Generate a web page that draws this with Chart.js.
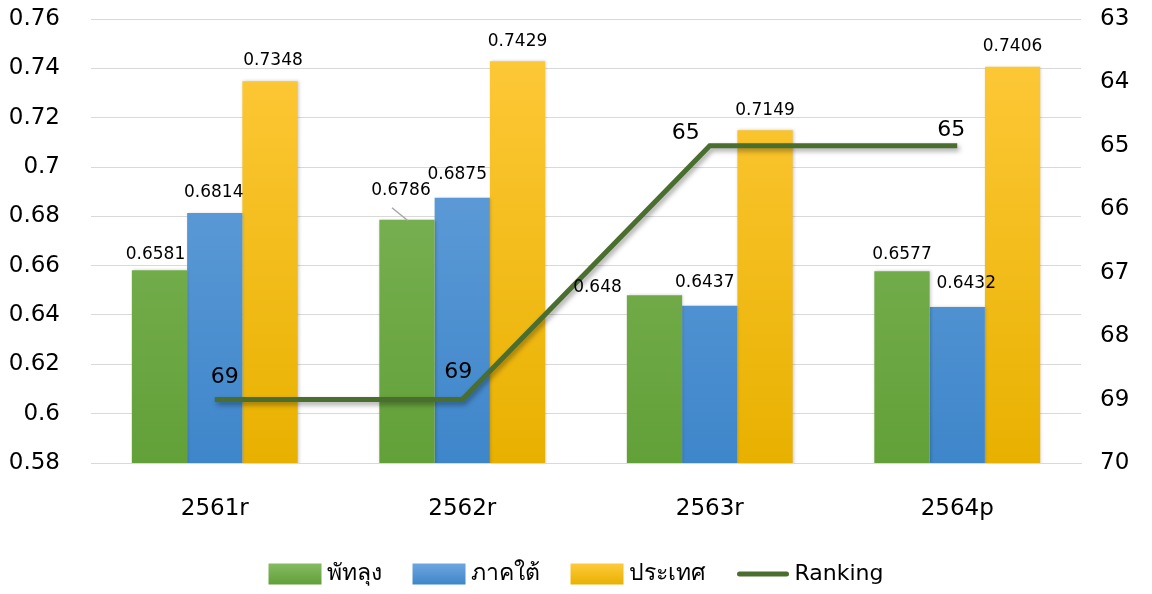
<!DOCTYPE html>
<html>
<head>
<meta charset="utf-8">
<script src="https://cdn.jsdelivr.net/npm/chart.js@4/dist/chart.umd.min.js"></script>
<style>
  html, body { margin: 0; padding: 0; background: #fff; }
  #wrap { width: 1152px; height: 594px; }
</style>
</head>
<body>
<div id="wrap"><canvas id="rankChart" width="1152" height="594"></canvas></div>
<script>
// data
var years = ["2561r", "2562r", "2563r", "2564p"];
var phatthalung = [0.6581, 0.6786, 0.648, 0.6577];
var southRegion = [0.6814, 0.6875, 0.6437, 0.6432];
var country = [0.7348, 0.7429, 0.7149, 0.7406];
var ranking = [69, 69, 65, 65];

var FONT = "'DejaVu Sans', 'Noto Sans', sans-serif";

var colors = {
  green: ["#86bb62", "#62a038"],
  blue: ["#6ea6de", "#3e86ca"],
  yellow: ["#ffca3c", "#e8b100"],
  rank: "#4a6e2e"
};

//gradient fill per bar colour (top -> bottom)
function barGradient(top, bottom) {
  return function (context) {
    var area = context.chart.chartArea;
    if (!area) return bottom;
    var g = context.chart.ctx.createLinearGradient(0, area.top, 0, area.bottom);
    g.addColorStop(0, top);
    g.addColorStop(1, bottom);
    return g;
  };
}

// label nudges for the crowded spots (dataset index -> point index -> [dx, dy])
var labelNudge = {
  1: { 0: [-4, 4], 1: [-6, -9], 2: [-57, 12], 3: [0, 3] },
  2: { 0: [-1, 0], 1: [-5, -3], 2: [-5, -3], 3: [9, -4] },
  3: { 0: [3, -1] }
};
// ranking labels sit by hand next to the points
var rankLabelOffset = [[10, -22], [-4, -27], [-24, -13], [-6, -16]];

var valueLabels = {
  id: 'valueLabels',
  afterDatasetsDraw: function (chart) {
    var ctx = chart.ctx;
    ctx.save();
    ctx.fillStyle = "#000";
    ctx.textAlign = "center";
    ctx.textBaseline = "middle";
    chart.data.datasets.forEach(function (ds, di) {
      var meta = chart.getDatasetMeta(di);
      meta.data.forEach(function (el, i) {
        if (ds.type === 'line') {
          ctx.font = "22px " + FONT;
          ctx.fillText(ds.data[i], el.x + rankLabelOffset[i][0], el.y + rankLabelOffset[i][1]);
          return;
        }
        var n = (labelNudge[di] && labelNudge[di][i]) || [0, 0];
        ctx.font = "17px " + FONT;
        ctx.fillText(String(ds.data[i]), el.x + n[0], el.y - 20 + n[1]);
        if (n[1] < -8) {
          //leader line
          ctx.strokeStyle = "#a6a6a6";
          ctx.lineWidth = 1.5;
          ctx.beginPath();
          ctx.moveTo(el.x - 15, el.y - 12);
          ctx.lineTo(el.x + 1, el.y + 1);
          ctx.stroke();
        }
      });
    });
    ctx.restore();
  }
};

var softShadow = {
  id: 'softShadow',
  beforeDatasetDraw: function (chart, args) {
    var ctx = chart.ctx;
    var isLine = chart.data.datasets[args.index].type === 'line';
    ctx.save();
    ctx.shadowColor = isLine ? "rgba(0,0,0,0.35)" : "rgba(0,0,0,0.2)";
    ctx.shadowBlur = isLine ? 5 : 3;
    ctx.shadowOffsetX = isLine ? 2 : 1;
    ctx.shadowOffsetY = isLine ? 3 : 0;
  },
  afterDatasetDraw: function (chart) {
    chart.ctx.restore();
  }
};

//legend drawn by hand so the spacing matches
var bottomLegend = {
  id: 'bottomLegend',
  afterDraw: function (chart) {
    var ctx = chart.ctx;
    var order = [1, 2, 3, 0];
    var swatchW = 53, swatchH = 21, gapIn = 5, gapOut = 31, y = 574;
    var items = order.map(function (di) {
      var ds = chart.data.datasets[di];
      var size = /[\u0E00-\u0E7F]/.test(ds.label) ? 23 : 22;
      ctx.font = size + "px " + FONT;
      return { ds: ds, size: size, w: ctx.measureText(ds.label).width };
    });
    var total = 0;
    items.forEach(function (it, k) {
      total += swatchW + gapIn + it.w + (k < items.length - 1 ? gapOut : 0);
    });
    var x = (chart.width - total) / 2;
    ctx.save();
    ctx.textBaseline = "middle";
    ctx.textAlign = "left";
    items.forEach(function (it) {
      if (it.ds.type === 'line') {
        ctx.strokeStyle = colors.rank;
        ctx.lineWidth = 5;
        ctx.lineCap = 'round';
        ctx.beginPath();
        ctx.moveTo(x + 3, y);
        ctx.lineTo(x + swatchW - 3, y);
        ctx.stroke();
      } else {
        var c = it.ds.label === "พัทลุง" ? colors.green : it.ds.label === "ภาคใต้" ? colors.blue : colors.yellow;
        var g = ctx.createLinearGradient(0, y - swatchH / 2, 0, y + swatchH / 2);
        g.addColorStop(0, c[0]);
        g.addColorStop(1, c[1]);
        ctx.fillStyle = g;
        ctx.fillRect(x, y - swatchH / 2, swatchW, swatchH);
      }
      x += swatchW + gapIn;
      ctx.fillStyle = "#000";
      ctx.font = it.size + "px " + FONT;
      ctx.fillText(it.ds.label, x, y);
      x += it.w + gapOut;
    });
    ctx.restore();
  }
};

var rankChart = new Chart(document.getElementById('rankChart'), {
  type: 'bar',
  data: {
    labels: years,
    datasets: [
      {
        type: 'line',
        label: "Ranking",
        data: ranking,
        yAxisID: 'yRank',
        borderColor: colors.rank,
        backgroundColor: colors.rank,
        borderWidth: 5,
        pointRadius: 0,
        tension: 0,
        order: 0
      },
      {
        label: "พัทลุง",
        data: phatthalung,
        backgroundColor: barGradient(colors.green[0], colors.green[1]),
        yAxisID: 'y',
        order: 1
      },
      {
        label: "ภาคใต้",
        data: southRegion,
        backgroundColor: barGradient(colors.blue[0], colors.blue[1]),
        yAxisID: 'y',
        order: 1
      },
      {
        label: "ประเทศ",
        data: country,
        backgroundColor: barGradient(colors.yellow[0], colors.yellow[1]),
        yAxisID: 'y',
        order: 1
      }
    ]
  },
  options: {
    responsive: false,
    animation: false,
    layout: { padding: { top: 19, left: 0, right: 0, bottom: 71 } },
    datasets: { bar: { categoryPercentage: 0.67, barPercentage: 1.0 } },
    scales: {
      x: {
        grid: { display: false },
        border: { color: "#d9d9d9" },
        ticks: { color: "#000", font: { family: FONT, size: 23 }, padding: 24 },
        afterFit: function (s) { s.height = 60; }
      },
      y: {
        position: 'left',
        min: 0.58,
        max: 0.76,
        ticks: {
          stepSize: 0.02,
          color: "#000",
          padding: 0,
          font: { family: FONT, size: 23 },
          callback: function (v) { return String(+v.toFixed(2)); }
        },
        grid: { color: "#d9d9d9", drawTicks: true, tickLength: 31, tickColor: "rgba(0,0,0,0)" },
        border: { display: false },
        afterFit: function (s) { s.width = 91; }
      },
      yRank: {
        position: 'right',
        reverse: true,
        min: 63,
        max: 70,
        ticks: { stepSize: 1, color: "#000", font: { family: FONT, size: 23 }, padding: 0 },
        grid: { drawOnChartArea: false, drawTicks: true, tickLength: 19, tickColor: "rgba(0,0,0,0)" },
        border: { display: false },
        afterFit: function (s) { s.width = 71; }
      }
    },
    plugins: {
      tooltip: { enabled: false },
      legend: { display: false }
    }
  },
  plugins: [valueLabels, softShadow, bottomLegend]
});
</script>
</body>
</html>
